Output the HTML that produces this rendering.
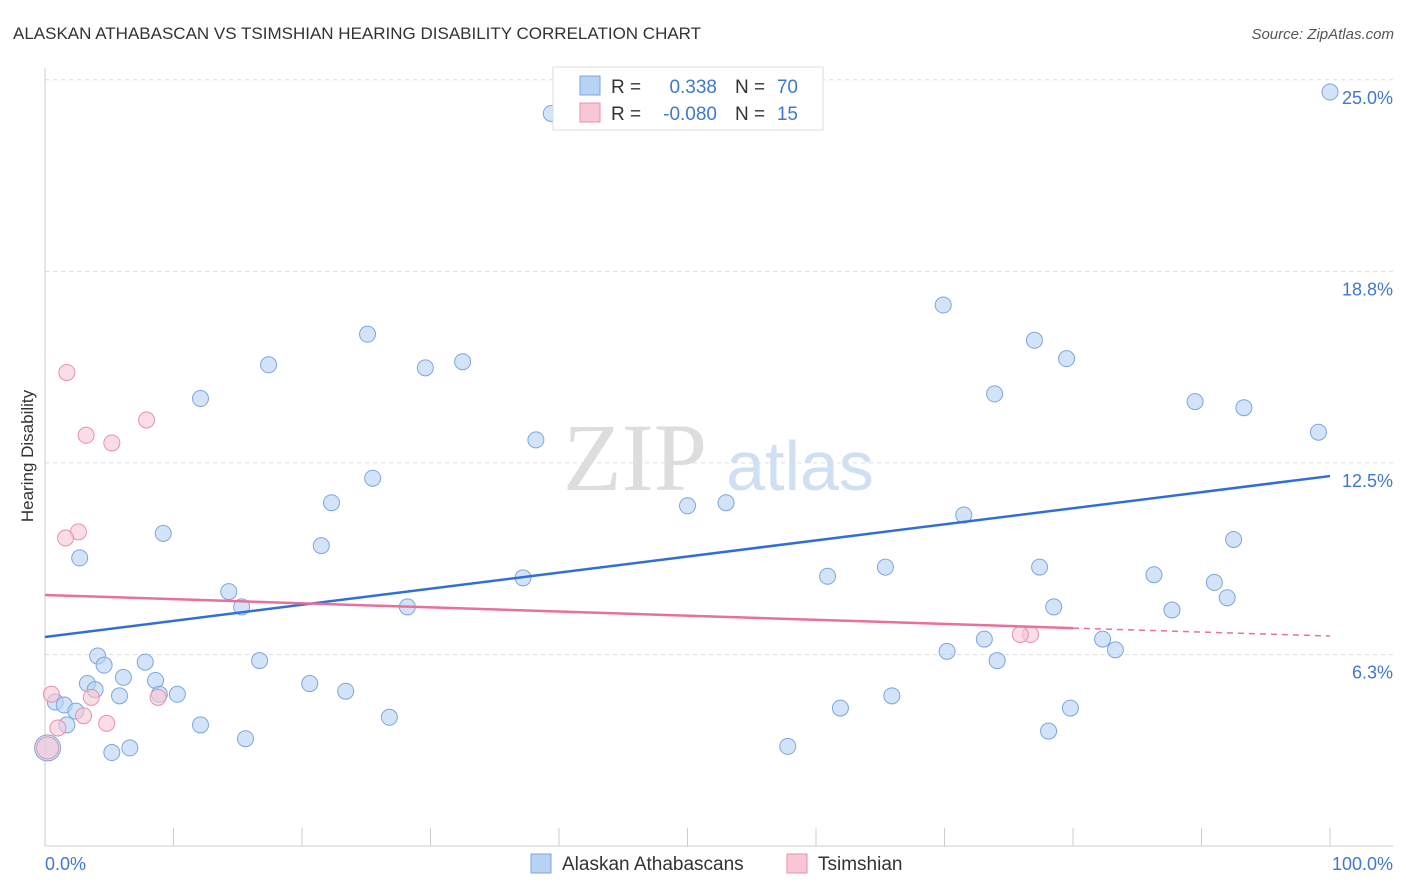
<!DOCTYPE html>
<html><head><meta charset="utf-8"><style>
body{margin:0;background:#fff;font-family:"Liberation Sans",sans-serif;}
svg{display:block}
</style></head><body>
<svg id="chart" width="1406" height="892" xmlns="http://www.w3.org/2000/svg" font-family="Liberation Sans, sans-serif">
<text x="13" y="39" font-size="17" fill="#333">ALASKAN ATHABASCAN VS TSIMSHIAN HEARING DISABILITY CORRELATION CHART</text>
<text x="1394" y="39" font-size="15" fill="#555" font-style="italic" text-anchor="end">Source: ZipAtlas.com</text>
<text transform="translate(33,456) rotate(-90)" font-size="17" fill="#333" text-anchor="middle">Hearing Disability</text>
<g><text x="635" y="490" font-size="96" fill="#ddd" font-family="Liberation Serif, serif" text-anchor="middle">ZIP</text><text x="800" y="490" font-size="70" fill="#cfe0f3" text-anchor="middle">atlas</text></g>
<g id="grid"></g><g id="axes"></g><g id="marks"></g>
<g>
<rect x="553" y="67" width="270" height="63" fill="#fff" stroke="#ddd"/>
<rect x="580" y="76" width="20" height="19" fill="#b8d2f4" stroke="#7aa6e0"/>
<rect x="580" y="103" width="20" height="19" fill="#f9c6d4" stroke="#e890aa"/>
<text x="611" y="93" font-size="19" fill="#333">R =</text><text x="717" y="93" font-size="19" fill="#3f78d0" text-anchor="end">0.338</text>
<text x="735" y="93" font-size="19" fill="#333">N =</text><text x="798" y="93" font-size="19" fill="#3f78d0" text-anchor="end">70</text>
<text x="611" y="120" font-size="19" fill="#333">R =</text><text x="717" y="120" font-size="19" fill="#3f78d0" text-anchor="end">-0.080</text>
<text x="735" y="120" font-size="19" fill="#333">N =</text><text x="798" y="120" font-size="19" fill="#3f78d0" text-anchor="end">15</text>
</g>
<g>
<rect x="531" y="854" width="20" height="19" fill="#b8d2f4" stroke="#7aa6e0"/><text x="562" y="870" font-size="19" fill="#333">Alaskan Athabascans</text>
<rect x="787" y="854" width="20" height="19" fill="#f9c6d4" stroke="#e890aa"/><text x="818" y="870" font-size="19" fill="#333">Tsimshian</text>
</g>
</svg>
<script>
const blueX=[41.2,39.4,100,69.9,77.0,79.5,25.1,17.4,29.6,32.5,12.1,73.9,89.5,93.3,99.1,38.2,25.5,22.3,50.0,53.0,71.5,9.2,21.5,2.7,92.5,37.2,60.9,65.4,77.4,86.3,91.0,14.3,15.3,28.2,78.5,87.7,92.0,73.1,82.3,83.3,70.2,74.1,16.7,4.1,7.8,4.6,6.1,3.3,8.6,20.6,3.9,23.4,10.3,8.9,5.8,65.9,0.8,1.5,2.4,61.9,79.8,26.8,1.7,12.1,15.6,78.1,6.6,5.2,57.8,0.2];
const blueY=[25.0,23.9,24.6,17.65,16.5,15.9,16.7,15.7,15.6,15.8,14.6,14.75,14.5,14.3,13.5,13.25,12.0,11.2,11.1,11.2,10.8,10.2,9.8,9.4,10.0,8.75,8.8,9.1,9.1,8.85,8.6,8.3,7.8,7.8,7.8,7.7,8.1,6.75,6.75,6.4,6.35,6.05,6.05,6.2,6.0,5.9,5.5,5.3,5.4,5.3,5.1,5.05,4.95,4.95,4.9,4.9,4.7,4.6,4.4,4.5,4.5,4.2,3.95,3.95,3.5,3.75,3.2,3.05,3.25,3.2];
const pinkX=[1.7,3.2,5.2,7.9,2.6,1.6,0.5,3.6,8.8,3.0,4.8,1.0,76.7,75.9,0.2];
const pinkY=[15.45,13.4,13.15,13.9,10.25,10.05,4.95,4.85,4.85,4.25,4.0,3.85,6.9,6.9,3.2];
const blueTrendX=[0,100], blueTrendY=[6.82,12.07];
const pinkTrendX=[0,80,100], pinkTrendY=[8.19,7.11,6.85];
const yTicks=[25.0,18.8,12.5,6.3], yTickVals=[25,18.75,12.5,6.25];
const xTicks=[0,10,20,30,40,50,60,70,80,90,100];
const NS="http://www.w3.org/2000/svg";
const X=v=>45+v*12.85, Y=v=>846-v*30.65;
function mk(tag,at,parent){const e=document.createElementNS(NS,tag);for(const k in at)e.setAttribute(k,at[k]);document.getElementById(parent).appendChild(e);return e;}
yTickVals.forEach((v,i)=>{
 const l=mk('line',{x1:45,x2:1393,y1:Y(v),y2:Y(v),stroke:'#ddd','stroke-dasharray':'4,4'},'grid');
 
 
 const t=mk('text',{x:1393,y:Y(v)+24,'font-size':18,fill:'#3f78d0','text-anchor':'end'},'grid');
 t.textContent=yTicks[i].toFixed(1)+'%';
 
 
});
let a=mk('line',{x1:45,x2:45,y1:68,y2:846,stroke:'#ccc'},'axes');


a=mk('line',{x1:45,x2:1393,y1:846,y2:846,stroke:'#ccc'},'axes');


xTicks.forEach(v=>{const t=mk('line',{x1:X(v),x2:X(v),y1:828,y2:846,stroke:'#ccc'},'axes');
 
 });
let t0=mk('text',{x:45,y:870,'font-size':18,fill:'#3f78d0'},'axes');t0.textContent='0.0%';


t0=mk('text',{x:1393,y:870,'font-size':18,fill:'#3f78d0','text-anchor':'end'},'axes');t0.textContent='100.0%';


blueX.forEach((x,i)=>{const c=mk('circle',{cx:X(x),cy:Y(blueY[i]),r:i==69?13:8,fill:'#b8d2f4','fill-opacity':0.6,stroke:'#7aa6e0','stroke-width':1},'marks');
 
 });
pinkX.forEach((x,i)=>{const c=mk('circle',{cx:X(x),cy:Y(pinkY[i]),r:i==14?11:8,fill:'#f9c6d4','fill-opacity':0.6,stroke:'#e890aa','stroke-width':1},'marks');
 
 });
let l=mk('line',{x1:X(blueTrendX[0]),y1:Y(blueTrendY[0]),x2:X(blueTrendX[1]),y2:Y(blueTrendY[1]),stroke:'#2f6fd6','stroke-width':2.5},'marks');


l=mk('line',{x1:X(pinkTrendX[0]),y1:Y(pinkTrendY[0]),x2:X(pinkTrendX[1]),y2:Y(pinkTrendY[1]),stroke:'#e8709a','stroke-width':2.5},'marks');


l=mk('line',{x1:X(pinkTrendX[1]),y1:Y(pinkTrendY[1]),x2:X(pinkTrendX[2]),y2:Y(pinkTrendY[2]),stroke:'#e8709a','stroke-width':1.5,'stroke-dasharray':'6,5'},'marks');


</script>
</body></html>
